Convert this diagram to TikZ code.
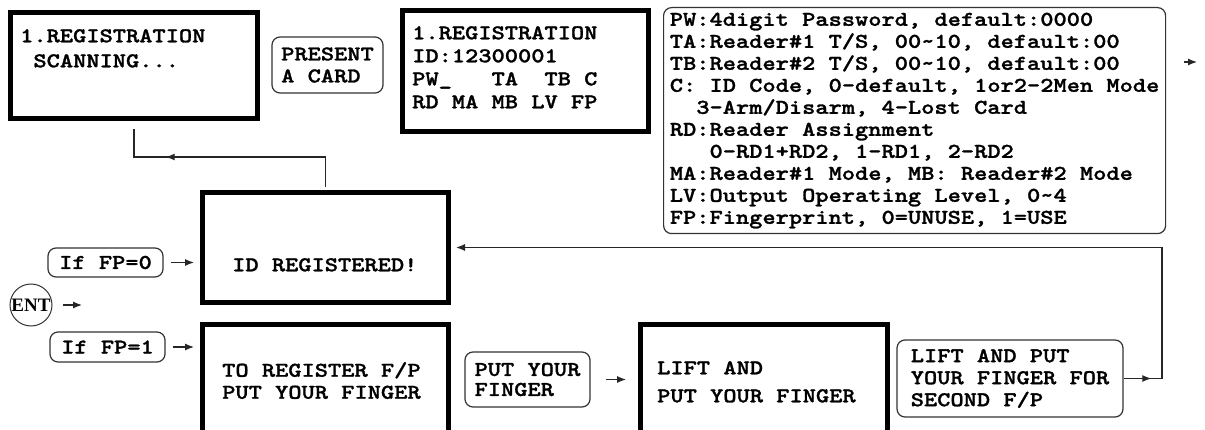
\documentclass[tikz,border=0pt]{standalone}
\usepackage{fontspec}
\newfontfamily\lcdfont[Extension=.otf, UprightFont=lmmonolt10-bold,
  BoldFont=lmmonolt10-bold, FakeStretch=1.2, FakeBold=1.3]{lmmonolt10-bold}
\newfontfamily\entfont{Liberation Serif}
\usetikzlibrary{arrows.meta,positioning,calc,decorations.markings}

\tikzset{
  lcd/.style={font={\lcdfont\fontsize{21pt}{22pt}\selectfont},
    inner sep=0pt, anchor=north west, align=left},
  screen/.style={draw, line width=5pt, anchor=north west, inner sep=0pt},
  hint/.style={draw=black!80, line width=1.2pt, rounded corners=8pt,
    font={\lcdfont\fontsize{21pt}{22pt}\selectfont},
    align=left, inner sep=0pt},
  flow/.style={draw=black!85, line width=1.2pt},
  tip/.style={-{Latex[length=9pt,width=7pt]}},
  midtip/.style={postaction={decorate}, decoration={markings,
    mark=at position #1 with {\arrow{Latex[length=9pt,width=7pt]}}}},
}

\begin{document}
\begin{tikzpicture}[x=1pt,y=-1pt]
  \clip (0,0) rectangle (1205,430);
  % LCD screens
  \node[screen, minimum width=247pt, minimum height=106pt] (scan) at (8,10) {};
  \node[lcd] (scantxt) at (20,29) {1.REGISTRATION\\[3pt]~SCANNING...};
  \node[screen, minimum width=246pt, minimum height=121pt] (reg) at (400,8) {};
  \node[lcd] (regtxt) at (412,26)
    {1.REGISTRATION\\[1pt]ID:12300001\\[1pt]PW\_~~~TA~~TB~C\\[1pt]RD~MA~MB~LV~FP};
  \node[screen, minimum width=246pt, minimum height=110pt] (idreg) at (200,190) {};
  \node[lcd] (idregtxt) at (232,258) {ID REGISTERED!};
  \node[screen, minimum width=246pt, minimum height=160pt] (toreg) at (200,322) {};
  \node[lcd] (toregtxt) at (222,362) {TO REGISTER F/P\\PUT YOUR FINGER};
  \node[screen, minimum width=247pt, minimum height=160pt] (lift) at (638,322) {};
  \node[lcd] (lifttxt) at (657,361) {LIFT AND\\[6pt]PUT YOUR FINGER};

  % prompts and notes
  \node[hint, minimum width=111pt, minimum height=56pt] (present) at (327.5,65) {PRESENT\\A CARD};
  \node[hint, minimum width=502pt, minimum height=226pt, anchor=north west] (info) at (663,7)
    {PW:4digit Password, default:0000\\
     TA:Reader\#1 T/S, 00\textasciitilde10, default:00\\
     TB:Reader\#2 T/S, 00\textasciitilde10, default:00\\
     C: ID Code, 0-default, 1or2-2Men Mode\\
     ~~3-Arm/Disarm, 4-Lost Card\\
     RD:Reader Assignment\\
     ~~~0-RD1+RD2, 1-RD1, 2-RD2\\
     MA:Reader\#1 Mode, MB: Reader\#2 Mode\\
     LV:Output Operating Level, 0\textasciitilde4\\
     FP:Fingerprint, 0=UNUSE, 1=USE};
  \node[hint, minimum width=115pt, minimum height=29pt] (fp0) at (105.5,262.5) {If FP=0};
  \node[hint, minimum width=115pt, minimum height=30pt] (fp1) at (107.5,347) {If FP=1};
  \node[circle, draw=black!80, line width=1pt, minimum size=42pt, inner sep=0pt,
    font={\entfont\fontsize{19pt}{19pt}\selectfont\bfseries}] (ent) at (31,305) {ENT};
  \node[hint, minimum width=125pt, minimum height=55pt] (put) at (527.5,379.5) {PUT YOUR\\[-2pt]FINGER};
  \node[hint, minimum width=226pt, minimum height=77pt] (lift2) at (1010,378.5)
    {LIFT AND PUT\\YOUR FINGER FOR\\SECOND F/P};

  % connectors
  \coordinate (backrow) at (0,157);
  \coordinate (turn) at (1162,378.5);
  \coordinate (entend) at (82,305);
  \coordinate (more) at (1197,62);
  \draw[flow, midtip=.74, shorten <=3pt, shorten >=8pt]
    (idreg.north) -- (idreg.north |- backrow) -| (scan.south);
  \draw[flow, tip, shorten <=7pt, shorten >=6pt] (fp0.east) -- (fp0.east -| idreg.west);
  \draw[flow, tip, shorten <=7pt, shorten >=6pt] (fp1.east) -- (fp1.east -| toreg.west);
  \draw[flow, tip, shorten <=10pt] (ent) -- (entend);
  \draw[flow, tip, shorten <=15pt, shorten >=12pt] (put.east) -- (put.east -| lift.west);
  \draw[flow, midtip=.72] (lift2) -- (turn);
  \draw[flow, tip, shorten >=5pt] (turn) |- (idreg.east);
  \draw[flow, tip, shorten <=18pt] (info.east |- more) -- (more);
\end{tikzpicture}
\end{document}
